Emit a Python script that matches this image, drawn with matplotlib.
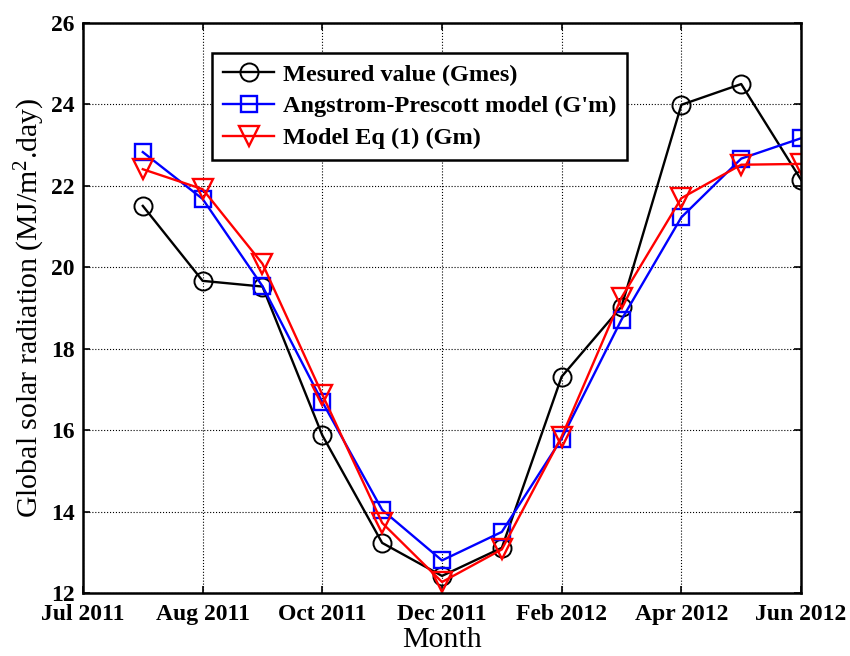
import matplotlib
matplotlib.use('Agg')
import matplotlib.pyplot as plt
import numpy as np

plt.rcParams['font.family'] = ['Liberation Serif', 'DejaVu Serif']
plt.rcParams['mathtext.fontset'] = 'custom'
plt.rcParams['mathtext.rm'] = 'Liberation Serif'
plt.rcParams['mathtext.it'] = 'Liberation Serif:italic'

# jours depuis le debut de l'axe (un point par mois)
jours = [30, 60, 90, 120, 150, 180, 210, 240, 270, 300, 330, 360]
g_mes = [21.50, 19.66, 19.52, 15.87, 13.23, 12.42, 13.11, 17.31, 19.03, 23.98, 24.49, 22.14]
g_ap = [22.82, 21.67, 19.53, 16.69, 14.04, 12.80, 13.50, 15.79, 18.71, 21.22, 22.66, 23.16]
g_m = [22.40, 21.91, 20.08, 16.87, 13.72, 12.27, 13.07, 15.84, 19.25, 21.69, 22.51, 22.53]

ticks_x = [0, 60, 120, 180, 240, 300, 360]
labels_x = ['Jul 2011', 'Aug 2011', 'Oct 2011', 'Dec 2011', 'Feb 2012', 'Apr 2012', 'Jun 2012']
ticks_y = [12, 14, 16, 18, 20, 22, 24, 26]

fig = plt.figure(figsize=(8.5, 6.56), dpi=100)
ax = fig.add_axes([0.0976, 0.096, 0.8448, 0.8697])

ms = 13
ax.plot(jours, g_mes, '-o', color='black', lw=1.7, ms=ms, mfc='none', mew=1.4,
        label='Mesured value (Gmes)')
ax.plot(jours, g_ap, '-s', color='blue', lw=1.7, ms=ms - 1.5, mfc='none', mew=1.7,
        label="Angstrom-Prescott model (G'm)")
ax.plot(jours, g_m, '-v', color='red', lw=1.7, ms=ms + 1, mfc='none', mew=1.7,
        label='Model Eq (1) (Gm)')

ax.set_xlim(0, 360)
ax.set_ylim(12, 26)
ax.set_xticks(ticks_x)
ax.set_xticklabels(labels_x, fontsize=17, fontweight='bold')
ax.set_yticks(ticks_y)
ax.set_yticklabels([str(v) for v in ticks_y], fontsize=17, fontweight='bold')
ax.tick_params(direction='in', length=5, width=1.2, top=True, right=True)
ax.tick_params(axis='x', pad=8)
ax.tick_params(axis='y', pad=6)
ax.grid(True, color='black', linestyle=':', linewidth=0.8)
for s in ax.spines.values():
    s.set_linewidth(1.8)

ax.set_xlabel('Month', fontsize=21.5, labelpad=1)
ax.set_ylabel(r'Global solar radiation (MJ/m$^{2}$.day)', fontsize=21.5, labelpad=3)

leg = ax.legend(loc='upper left', bbox_to_anchor=(0.18, 0.947), borderaxespad=0,
                prop={'size': 17.5, 'weight': 'bold'}, fancybox=False, framealpha=1,
                edgecolor='black', handlelength=2.1, handletextpad=0.35,
                labelspacing=0.4, borderpad=0.45)
leg.get_frame().set_linewidth(1.8)

fig.savefig('out.png', dpi=100)
